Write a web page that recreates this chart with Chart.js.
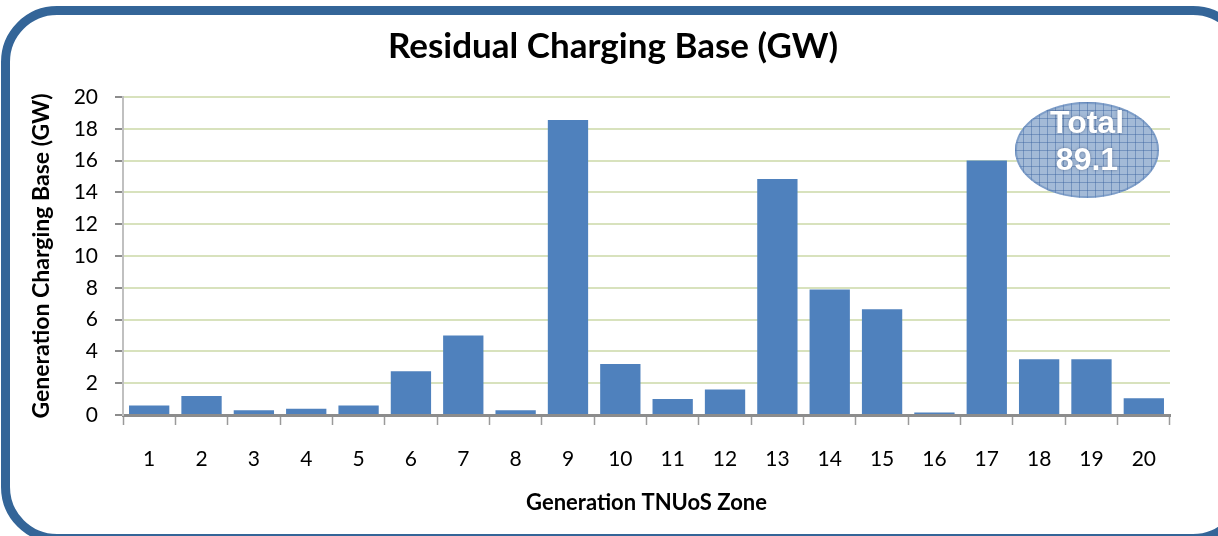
<!DOCTYPE html>
<html>
<head>
<meta charset="utf-8">
<script src="https://cdn.jsdelivr.net/npm/chart.js@4"></script>
<style>
    html, body { margin: 0; padding: 0; background: #fff; overflow: hidden; }
    #moldura {
        position: absolute;
        left: 1px; top: 6px;
        width: 1230px; height: 519px;
        border: 9px solid #346598;
        border-radius: 56px;
    }
    #grafico { position: absolute; left: 0; top: 0; }
</style>
</head>
<body>
<div id="moldura"></div>
<canvas id="grafico" width="1218" height="536"></canvas>
<script>
const zonas = ['1', '2', '3', '4', '5', '6', '7', '8', '9', '10',
    '11', '12', '13', '14', '15', '16', '17', '18', '19', '20'];
const baseGW = [0.6, 1.2, 0.3, 0.4, 0.6, 2.75, 5.0, 0.3, 18.55, 3.2,
    1.0, 1.6, 14.85, 7.9, 6.65, 0.15, 16.0, 3.5, 3.5, 1.05];
const ticksY = [0, 2, 4, 6, 8, 10, 12, 14, 16, 18, 20];

const fonte = 'Lato, "Open Sans", sans-serif';
let total = 0;
baseGW.forEach(v => { total += v; });

// balão "Total" desenhado por cima do gráfico
const balaoTotal = {
    id: 'balaoTotal',
    afterDraw(chart) {
        const c = chart.ctx;
        const area = chart.chartArea;
        const cx = area.right - 83;
        const cy = area.top + 53;
        const rx = 72, ry = 48;

        c.save();
        c.beginPath();
        c.ellipse(cx, cy, rx, ry, 0, 0, Math.PI * 2);
        c.fillStyle = '#a3bad7';
        c.fill();
        c.clip();

        // quadriculado
        c.strokeStyle = 'rgba(60, 100, 160, 0.45)';
        c.lineWidth = 1;
        for (let x = cx - rx; x <= cx + rx; x += 8) {
            c.beginPath();
            c.moveTo(x + 0.5, cy - ry);
            c.lineTo(x + 0.5, cy + ry);
            c.stroke();
        }
        for (let y = cy - ry; y <= cy + ry; y += 8) {
            c.beginPath();
            c.moveTo(cx - rx, y + 0.5);
            c.lineTo(cx + rx, y + 0.5);
            c.stroke();
        }
        c.restore();

        c.save();
        c.beginPath();
        c.ellipse(cx, cy, rx - 1, ry - 1, 0, 0, Math.PI * 2);
        c.strokeStyle = 'rgba(90, 130, 185, 0.5)';
        c.lineWidth = 2;
        c.stroke();

        c.font = 'bold 32px "Liberation Sans", Arial, sans-serif';
        c.textAlign = 'center';
        c.textBaseline = 'middle';
        c.shadowColor = 'rgba(40, 60, 100, 0.5)';
        c.shadowBlur = 3;
        c.fillStyle = '#ffffff';
        c.fillText('Total', cx, cy - 26);
        c.fillText(total.toFixed(1), cx, cy + 11);
        c.restore();
    }
};

const ctx = document.getElementById('grafico');

const chart = new Chart(ctx, {
    type: 'bar',
    data: {
        labels: zonas,
        datasets: [{
            label: 'Residual Charging Base',
            data: baseGW,
            backgroundColor: '#4f81bd',
            borderColor: '#4f81bd',
            borderWidth: 0,
            barPercentage: 0.77,
            categoryPercentage: 1
        }]
    },
    options: {
        responsive: false,
        animation: false,
        layout: {
            padding: { left: 56, right: 48, top: 0, bottom: 0 }
        },
        plugins: {
            legend: { display: false },
            tooltip: { enabled: false },
            title: {
                display: true,
                text: 'Residual Charging Base (GW)',
                color: '#000',
                font: { family: fonte, size: 35, weight: 'bold' },
                padding: { top: 26, bottom: 29 }
            }
        },
        scales: {
            x: {
                offset: true,
                grid: {
                    offset: true,
                    drawOnChartArea: false,
                    tickLength: 10,
                    tickColor: '#9a9a9a',
                    tickWidth: 1.5
                },
                border: { color: '#8c8c8c', width: 3 },
                ticks: {
                    color: '#000',
                    padding: 22,
                    maxRotation: 0,
                    font: { family: fonte, size: 21 }
                },
                title: {
                    display: true,
                    text: 'Generation TNUoS Zone',
                    color: '#000',
                    font: { family: fonte, size: 22, weight: 'bold' },
                    padding: { top: 0, bottom: 20 }
                },
                afterFit(scale) { scale.height = 121; }
            },
            y: {
                min: 0,
                max: 20,
                afterBuildTicks(scale) {
                    scale.ticks = ticksY.map(v => ({ value: v }));
                },
                grid: {
                    color: '#d8e2bd',
                    lineWidth: 2,
                    tickLength: 8,
                    tickColor: '#8c8c8c',
                    tickWidth: 2
                },
                border: { color: '#c0c0c0', width: 2 },
                ticks: {
                    color: '#000',
                    padding: 17,
                    font: { family: fonte, size: 21 }
                },
                title: {
                    display: true,
                    text: 'Generation Charging Base (GW)',
                    color: '#000',
                    font: { family: fonte, size: 23, weight: 'bold' },
                    padding: { top: -28, bottom: 0 }
                },
                afterFit(scale) { scale.width = 67; }
            }
        }
    },
    plugins: [balaoTotal]
});
</script>
</body>
</html>
